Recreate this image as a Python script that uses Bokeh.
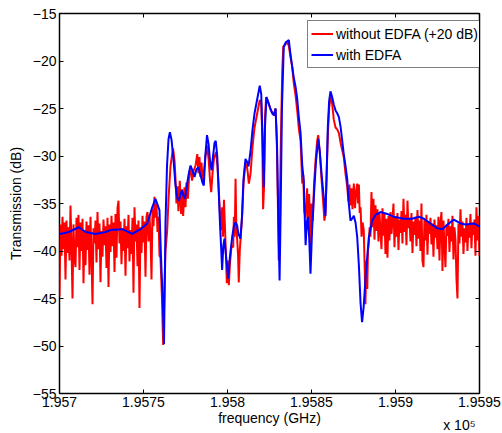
import numpy as np
from bokeh.plotting import figure
from bokeh.models import FixedTicker, LinearAxis, Range1d, Title, Legend, LegendItem
from bokeh.embed import file_html
from bokeh.resources import INLINE

FONT = "Liberation Sans"

# ---------------- data (frequency in GHz, transmission in dB) ----------------
# sampling step of the noisy baseline segments of the red trace
STEP_GHZ = 0.5952

red_left_start = 195700.0
red_left_db = [
    -44.8, -37.2, -40.5, -36.4, -39.8, -37.0, -43.0, -36.8, -40.2, -37.5,
    -41.0, -35.2, -39.5, -45.0, -37.2, -40.8, -41.7, -36.5, -39.6, -36.2,
    -42.0, -37.0, -40.0, -36.6, -43.4, -37.8, -41.5, -36.9, -39.9, -37.3,
    -42.5, -36.4, -40.4, -45.6, -37.6, -39.2, -36.8, -41.2, -35.9, -39.8,
    -37.1, -43.3, -37.9, -40.6, -36.7, -39.4, -37.4, -41.8, -36.5, -43.8,
    -37.2, -40.1, -36.3, -39.5, -37.0, -42.2, -36.1, -40.7, -35.5, -34.7,
    -39.2, -36.9, -41.4, -37.6, -40.0, -36.6, -42.6, -37.4, -39.7, -36.2,
    -41.1, -37.8, -40.3, -36.5, -44.4, -35.4, -39.0, -37.2, -41.6, -36.8,
    -46.0, -37.5, -40.2, -36.3, -39.1, -36.9, -42.7, -36.4, -35.9, -39.0,
    -36.2, -38.4, -43.0, -35.6, -37.4, -34.3, -36.5, -35.0, -38.0, -36.4,
    -40.5,
]

red_mid = [
    (195760.1, -40.7), (195761.0, -45.0), (195761.7, -49.9), (195762.5, -44.0),
    (195763.1, -40.0), (195764.1, -37.8), (195764.9, -34.5), (195766.1, -31.0),
    (195767.6, -29.2), (195768.5, -30.5), (195769.0, -32.2), (195769.6, -35.0),
    (195770.2, -33.2), (195770.8, -35.8), (195771.6, -32.6), (195772.4, -36.1),
    (195773.0, -33.5), (195773.6, -36.3), (195774.4, -33.3), (195775.0, -35.4),
    (195775.6, -32.8), (195776.4, -34.5), (195777.2, -31.9), (195778.0, -31.5),
    (195778.9, -32.6), (195779.9, -31.5), (195781.0, -31.0), (195782.0, -29.8),
    (195782.7, -31.8), (195783.3, -30.1), (195783.9, -32.2), (195784.5, -30.7),
    (195785.3, -32.8), (195786.0, -31.6), (195786.9, -30.0), (195787.8, -28.9),
    (195788.7, -30.2), (195789.6, -32.5), (195790.3, -33.8), (195791.1, -31.8),
    (195792.0, -30.2), (195793.2, -29.6), (195794.0, -31.0), (195794.8, -33.5),
    (195795.5, -36.0), (195796.1, -37.8), (195796.8, -35.4), (195797.3, -38.5),
    (195797.9, -34.6), (195798.5, -37.6), (195799.1, -40.5), (195799.6, -43.4),
    (195800.2, -41.0), (195800.8, -43.6), (195801.5, -41.2), (195802.4, -39.5),
    (195803.4, -39.6), (195803.8, -36.4), (195804.3, -38.5), (195804.8, -32.4),
    (195805.2, -37.0), (195805.8, -38.9), (195806.3, -40.5), (195806.7, -43.3),
    (195807.3, -40.0), (195808.0, -38.2), (195808.8, -36.0), (195809.5, -33.0),
    (195810.4, -31.2), (195811.3, -30.8), (195812.1, -31.8), (195812.7, -32.9),
    (195813.7, -31.9), (195814.9, -29.0), (195816.1, -27.0), (195817.7, -25.5),
    (195819.2, -24.1), (195820.1, -24.5), (195820.7, -28.0), (195821.2, -35.6),
    (195821.8, -33.0), (195822.3, -26.0), (195823.0, -23.8), (195824.1, -24.3),
    (195825.3, -24.9), (195826.6, -25.4), (195827.6, -25.7), (195828.6, -25.0),
    (195829.3, -28.0), (195829.9, -34.0), (195830.5, -41.0), (195831.1, -36.0),
    (195831.8, -28.0), (195832.6, -21.0), (195833.2, -18.5), (195834.2, -18.3),
    (195835.5, -18.0), (195836.5, -18.4), (195837.5, -19.6), (195838.5, -20.6),
    (195839.5, -22.4), (195840.5, -23.6), (195841.5, -25.2), (195842.4, -27.0),
    (195843.5, -28.4), (195844.5, -32.9), (195845.1, -32.0), (195845.7, -35.8),
    (195846.4, -36.5), (195847.4, -33.4), (195848.0, -37.8), (195848.6, -34.0),
    (195849.4, -39.6), (195850.0, -35.0), (195850.8, -36.8), (195851.5, -33.0),
    (195852.4, -30.5), (195853.3, -28.5), (195854.0, -27.8), (195854.9, -29.5),
    (195856.0, -32.5), (195856.8, -34.5), (195857.7, -36.8), (195858.3, -36.0),
    (195859.1, -31.5), (195859.8, -27.5), (195860.5, -25.0), (195861.3, -23.8),
    (195862.3, -24.5), (195863.3, -26.2), (195864.3, -27.0), (195865.3, -27.2),
    (195866.3, -27.6), (195867.3, -28.6), (195868.3, -29.4), (195869.2, -30.1),
    (195870.2, -31.8), (195871.3, -33.3), (195872.0, -34.8), (195872.6, -33.0),
    (195873.2, -35.2), (195873.8, -33.4), (195874.4, -35.6), (195875.2, -32.9),
    (195875.9, -35.5), (195876.5, -33.8), (195877.2, -32.9), (195877.7, -35.0),
    (195878.2, -33.0), (195878.7, -36.0), (195879.2, -35.4), (195879.8, -38.5),
    (195880.4, -37.0), (195881.1, -37.8), (195881.7, -42.0), (195882.1, -45.6),
    (195882.6, -41.0), (195883.2, -44.0), (195883.6, -40.0), (195884.1, -39.2),
    (195884.6, -37.5),
]

red_right_start = 195885.1
red_right_db = [
    -38.5, -33.8, -37.5, -34.5, -38.8, -35.2, -37.9, -35.6, -39.0, -36.0,
    -37.8, -39.8, -35.5, -38.4, -36.1, -40.3, -36.6, -40.7, -36.3, -38.9,
    -35.9, -38.2, -36.8, -35.0, -39.6, -36.4, -38.5, -36.0, -39.9, -36.7,
    -38.1, -35.8, -39.2, -34.5, -38.0, -36.2, -39.4, -34.7, -37.6, -36.5,
    -39.0, -36.0, -40.2, -36.9, -38.3, -36.4, -39.5, -35.7, -38.7, -36.8,
    -40.0, -35.0, -41.0, -41.7, -36.6, -38.9, -36.2, -40.4, -36.9, -38.2,
    -36.5, -39.3, -37.1, -40.6, -36.7, -38.6, -37.3, -39.8, -36.4, -41.0,
    -37.0, -35.9, -42.1, -36.8, -39.5, -41.7, -37.2, -38.4, -36.6, -40.1,
    -37.4, -39.0, -36.3, -40.9, -37.5, -38.8, -42.9, -45.0, -37.1, -39.2,
    -35.6, -38.5, -36.9, -40.3, -37.6, -39.1, -36.5, -40.0, -37.2, -38.6,
    -36.1, -39.7, -37.0, -38.3, -36.7, -40.5, -35.4, -38.9, -36.3, -40.5,
]

blue = [
    (195700.0, -38.2), (195703.0, -38.1), (195705.5, -38.0), (195711.5, -37.5),
    (195715.5, -38.0), (195721.4, -38.2), (195727.4, -38.0), (195730.4, -37.8),
    (195737.3, -37.7), (195743.3, -38.2), (195748.2, -37.7), (195752.2, -37.1),
    (195755.2, -35.4), (195757.1, -34.5), (195759.5, -35.7), (195760.4, -40.5),
    (195761.3, -44.5), (195762.2, -49.8), (195763.1, -37.0), (195764.0, -31.0),
    (195764.9, -28.2), (195765.7, -27.5), (195766.7, -28.3), (195767.9, -30.5),
    (195769.0, -33.0), (195770.2, -34.5), (195771.1, -34.7), (195772.0, -34.0),
    (195772.9, -33.6), (195773.8, -34.2), (195774.7, -34.5), (195775.9, -33.0),
    (195777.1, -31.7), (195778.0, -31.0), (195779.2, -31.6), (195780.4, -32.2),
    (195781.5, -31.4), (195782.7, -31.2), (195783.9, -32.0), (195785.1, -32.8),
    (195785.9, -33.1), (195786.8, -30.0), (195787.8, -27.8), (195788.7, -28.7),
    (195789.6, -30.5), (195790.5, -31.5), (195791.4, -30.0), (195792.3, -28.6),
    (195793.0, -28.4), (195793.9, -30.0), (195794.6, -33.0), (195795.5, -37.0),
    (195796.3, -40.0), (195796.8, -42.0), (195797.5, -39.5), (195798.2, -38.7),
    (195799.1, -40.5), (195800.4, -42.9), (195801.5, -40.5), (195802.8, -38.5),
    (195803.9, -37.3), (195804.8, -37.0), (195805.7, -37.3), (195806.5, -38.2),
    (195807.7, -38.7), (195808.6, -36.5), (195809.5, -32.5), (195810.7, -30.3),
    (195811.6, -30.6), (195812.5, -31.1), (195813.7, -29.5), (195814.9, -27.2),
    (195816.1, -25.5), (195817.7, -24.0), (195819.2, -22.6), (195820.1, -23.5),
    (195820.8, -28.0), (195821.6, -33.3), (195822.3, -27.0), (195823.2, -23.8),
    (195824.4, -24.4), (195825.6, -25.1), (195826.6, -25.5), (195827.6, -25.7),
    (195828.6, -25.0), (195829.5, -29.0), (195830.2, -36.0), (195831.0, -43.1),
    (195831.7, -35.0), (195832.4, -25.0), (195833.5, -18.5), (195834.8, -18.0),
    (195835.7, -17.9), (195836.5, -17.8), (195837.5, -19.3), (195838.5, -20.6),
    (195839.5, -21.8), (195840.5, -22.7), (195841.5, -24.0), (195842.4, -25.8),
    (195843.5, -27.6), (195844.5, -31.0), (195845.4, -32.6), (195846.0, -36.5),
    (195846.5, -39.4), (195847.2, -37.0), (195847.8, -36.4), (195848.6, -38.5),
    (195849.4, -42.4), (195850.3, -38.0), (195851.4, -34.3), (195852.7, -30.5),
    (195854.0, -28.2), (195854.9, -29.5), (195856.0, -31.9), (195857.1, -34.0),
    (195858.3, -36.3), (195859.0, -32.0), (195859.7, -27.0), (195860.5, -24.2),
    (195861.3, -23.2), (195862.3, -23.8), (195863.3, -24.6), (195864.3, -25.2),
    (195865.3, -25.5), (195866.3, -25.9), (195867.3, -26.9), (195868.3, -28.4),
    (195869.2, -29.8), (195870.2, -31.0), (195871.3, -32.5), (195872.2, -35.0),
    (195873.2, -36.8), (195874.2, -36.6), (195875.2, -36.3), (195876.2, -37.0),
    (195877.2, -38.5), (195878.2, -41.5), (195879.2, -45.5), (195880.1, -47.5),
    (195881.0, -46.0), (195882.1, -43.0), (195884.1, -38.6), (195886.1, -36.8),
    (195888.1, -36.2), (195891.1, -35.9), (195895.1, -36.1), (195899.0, -36.4),
    (195904.9, -36.6), (195909.9, -36.6), (195913.9, -36.4), (195916.9, -36.6),
    (195920.8, -37.1), (195924.8, -37.6), (195927.8, -37.7), (195931.7, -37.1),
    (195934.7, -36.7), (195938.7, -37.1), (195941.7, -37.2), (195946.6, -37.1),
    (195949.8, -37.4),
]

x_ticks = [195700, 195750, 195800, 195850, 195900, 195950]
x_tick_labels = ["1.957", "1.9575", "1.958", "1.9585", "1.959", "1.9595"]
x_exponent_label = "x 10\u2075"
y_ticks = [-55, -50, -45, -40, -35, -30, -25, -20, -15]
y_tick_labels = ["\u221255", "\u221250", "\u221245", "\u221240", "\u221235",
                 "\u221230", "\u221225", "\u221220", "\u221215"]

series_labels = ["without EDFA (+20 dB)", "with EDFA"]
series_colors = ["#ff0000", "#0000ff"]

# ---------------- assemble traces ----------------
red_left_f = red_left_start + STEP_GHZ * np.arange(len(red_left_db))
red_right_f = red_right_start + STEP_GHZ * np.arange(len(red_right_db))
red_f = np.concatenate([red_left_f, [m[0] for m in red_mid], red_right_f])
red_db = np.concatenate([red_left_db, [m[1] for m in red_mid], red_right_db])
blue_f = [b[0] for b in blue]
blue_db = [b[1] for b in blue]

# ---------------- figure ----------------
p = figure(width=502, height=433, output_backend="svg", toolbar_location=None,
           x_range=Range1d(195700, 195950), y_range=Range1d(-55, -15),
           min_border_left=59, min_border_right=23, min_border_top=13,
           min_border_bottom=40)
p.background_fill_color = "white"
p.border_fill_color = "white"
p.grid.visible = False
p.outline_line_color = "black"
p.outline_line_width = 1.5

r_red = p.line(red_f, red_db, line_color=series_colors[0], line_width=2)
r_blue = p.line(blue_f, blue_db, line_color=series_colors[1], line_width=2)

def style_axis(ax, labels=True):
    ax.axis_line_color = None
    ax.major_tick_in = 4
    ax.major_tick_out = 0
    ax.minor_tick_line_color = None
    ax.major_tick_line_color = "black"
    ax.major_tick_line_width = 1
    ax.major_label_text_font = FONT
    ax.axis_label_text_font = FONT
    ax.axis_label_text_font_style = "normal"
    ax.axis_label_text_font_size = "14px"
    ax.axis_label_text_color = "black"
    if labels:
        ax.major_label_text_color = "black"
        ax.major_label_text_font_size = "14px"
        ax.major_label_standoff = 4
    else:
        # mirrored tick marks only (MATLAB "box on"), no labels drawn
        ax.major_label_text_color = None
        ax.major_label_text_font_size = "1px"
        ax.major_label_standoff = 0

xt = FixedTicker(ticks=x_ticks)
yt = FixedTicker(ticks=y_ticks)

xa = p.xaxis[0]
xa.ticker = xt
xa.major_label_overrides = dict(zip(x_ticks, x_tick_labels))
style_axis(xa)
xa.major_label_standoff = 3
xa.axis_label = "frequency (GHz)"
xa.axis_label_standoff = 0

ya = p.yaxis[0]
ya.ticker = yt
ya.major_label_overrides = dict(zip(y_ticks, y_tick_labels))
style_axis(ya)
ya.major_label_standoff = 3
ya.axis_label = "Transmission (dB)"
ya.axis_label_standoff = 6

top = LinearAxis(ticker=FixedTicker(ticks=x_ticks))
style_axis(top, labels=False)
p.add_layout(top, "above")
right = LinearAxis(ticker=FixedTicker(ticks=y_ticks))
style_axis(right, labels=False)
p.add_layout(right, "right")

# exponent annotation "x 10^5" below the x axis, at the right end
p.add_layout(Title(text=x_exponent_label, align="right", vertical_align="top",
                   standoff=-23, offset=4, text_font=FONT, text_font_size="14px",
                   text_font_style="normal", text_color="black"), "below")

legend = Legend(items=[LegendItem(label=series_labels[0], renderers=[r_red]),
                       LegendItem(label=series_labels[1], renderers=[r_blue])],
                location=(248, 325))
legend.label_text_font = FONT
legend.label_text_font_size = "14px"
legend.label_text_color = "black"
legend.glyph_width = 22
legend.glyph_height = 19
legend.label_height = 19
legend.label_standoff = 3
legend.padding = 3
legend.spacing = 2
legend.margin = 0
legend.border_line_color = "black"
legend.border_line_width = 1.2
legend.background_fill_color = "white"
legend.background_fill_alpha = 1
p.add_layout(legend, "center")

open("out.html", "w").write(file_html(p, INLINE))
